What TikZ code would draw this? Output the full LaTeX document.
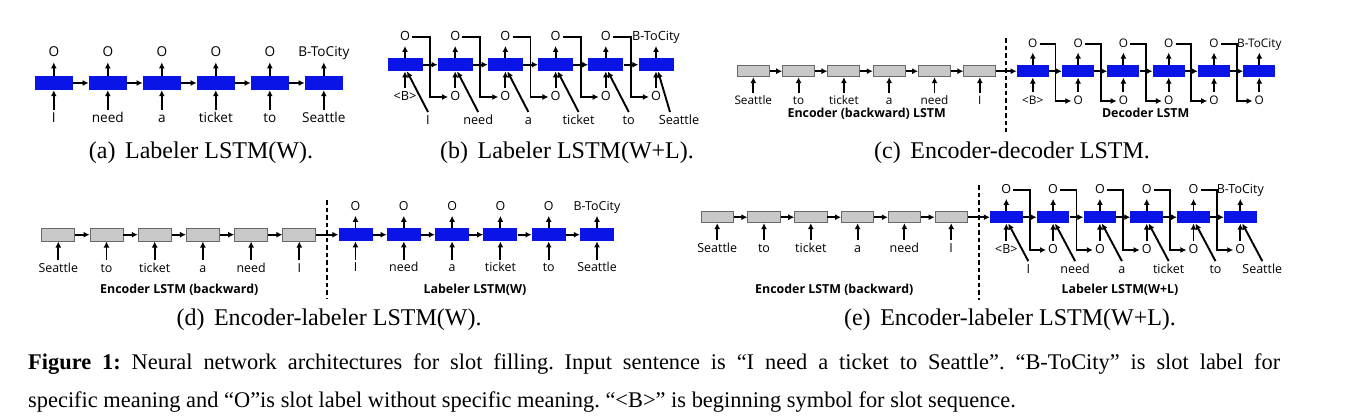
\documentclass[tikz,border=0pt]{standalone}
\usepackage{fontspec}
\setmainfont{Liberation Serif}
\newfontfamily\dfont{Open Sans}
\usetikzlibrary{arrows.meta,calc}
\definecolor{myblue}{RGB}{10,20,230}
\definecolor{mygray}{RGB}{200,200,200}
\definecolor{mygrayd}{RGB}{105,105,105}
\begin{document}
\frenchspacing
\begin{tikzpicture}[x=1pt,y=-1pt,
  arr/.style={-{Latex[length=6pt,width=6pt]},line width=1.9pt},
  bblk/.style={fill=myblue,inner sep=0pt},
  gblk/.style={fill=mygray,draw=mygrayd,line width=0.9pt,inner sep=0pt},
  lbl/.style={font=\dfont\fontsize{#1pt}{#1pt}\selectfont,inner xsep=2pt,inner ysep=3pt,
    text height=0.71*#1pt,text depth=0.2*#1pt},
  blbl/.style={font=\dfont\bfseries\fontsize{#1pt}{#1pt}\selectfont,inner sep=0pt},
  subcap/.style={font=\fontsize{24pt}{28pt}\selectfont,anchor=base,inner sep=0pt},
  capline/.style={font=\fontsize{22.4pt}{26pt}\selectfont,anchor=base west,inner sep=0pt},
  dashline/.style={line width=1.9pt,dash pattern=on 4.5pt off 3pt}
]
\fill[white] (0,0) rectangle (1348,418);
\useasboundingbox (0,0) rectangle (1348,418);

%% ---------------- (a) ----------------
\foreach \w [count=\i] in {I,need,a,ticket,to,Seattle}{
  \pgfmathsetmacro\x{53.8+54*(\i-1)}
  \node[bblk,minimum width=38pt,minimum height=14pt] (a\i) at (\x,83) {};
  \node[lbl=13.6] (aw\i) at (\x,119) {\w};
  \draw[arr] (aw\i) -- (a\i);
}
\foreach \w [count=\i] in {O,O,O,O,O,B-ToCity}{
  \node[lbl=13.6] (ao\i) at (a\i |- 0,53) {\w};
  \draw[arr] (a\i) -- (ao\i);
}
\foreach \i in {1,...,5}{
  \pgfmathtruncatemacro\j{\i+1}
  \draw[arr] (a\i) -- (a\j);
}
\node[subcap] (capa) at (201,158) {(a)\hspace{0.4em}Labeler LSTM(W).};

%% ---------------- (b) ----------------
\foreach \w [count=\i] in {I,need,a,ticket,to,Seattle}{
  \pgfmathsetmacro\x{405+50.2*(\i-1)}
  \node[bblk,minimum width=35pt,minimum height=13pt] (b\i) at (\x,64.7) {};
  \node[lbl=12.7] (bw\i) at (\x+23,121) {\w};
}
\foreach \w [count=\i] in {O,O,O,O,O,B-ToCity}{
  \node[lbl=12.7] (bo\i) at (b\i |- 0,37) {\w};
  \draw[arr] (b\i) -- (bo\i);
}
\foreach \w [count=\i] in {<B>,O,O,O,O,O}{
  \node[lbl=12.7] (bb\i) at (b\i |- 0,97) {\w};
  \draw[arr] (bb\i) -- (b\i);
  \pgfmathsetmacro\s{\i==6 ? -9 : 0}
  \draw[arr] ([xshift=\s pt]bw\i.north) -- ([xshift=2pt]b\i.south);
}
\foreach \i in {1,...,5}{
  \pgfmathtruncatemacro\j{\i+1}
  \draw[arr] (b\i) -- (b\j);
  \coordinate (bg\i) at ($(b\i.east)!0.5!(b\j.west)$);
  \draw[arr] (bo\i.east) -| (bg\i) |- (bb\j.west);
}
\node[subcap] (capb) at (567,158) {(b)\hspace{0.4em}Labeler LSTM(W+L).};

%% ---------------- (c) ----------------
\foreach \w [count=\i] in {Seattle,to,ticket,a,need,I}{
  \pgfmathsetmacro\x{753.3+45.3*(\i-1)}
  \node[gblk,minimum width=32pt,minimum height=11pt] (ce\i) at (\x,71.2) {};
  \node[lbl=11.8] (cw\i) at (\x,101.7) {\w};
  \draw[arr] (cw\i) -- (ce\i);
}
\foreach \i in {1,...,5}{
  \pgfmathtruncatemacro\j{\i+1}
  \draw[arr] (ce\i) -- (ce\j);
}
\foreach \w [count=\i] in {<B>,O,O,O,O,O}{
  \pgfmathsetmacro\x{1032.8+45.3*(\i-1)}
  \node[bblk,minimum width=32pt,minimum height=12.3pt] (cd\i) at (\x,71.2) {};
  \node[lbl=11.8] (cdb\i) at (\x,101) {\w};
  \draw[arr] (cdb\i) -- (cd\i);
}
\foreach \w [count=\i] in {O,O,O,O,O,B-ToCity}{
  \node[lbl=11.8] (cdo\i) at (cd\i |- 0,44) {\w};
  \draw[arr] (cd\i) -- (cdo\i);
}
\foreach \i in {1,...,5}{
  \pgfmathtruncatemacro\j{\i+1}
  \draw[arr] (cd\i) -- (cd\j);
  \coordinate (cg\i) at ($(cd\i.east)!0.5!(cd\j.west)$);
  \draw[arr] (cdo\i.east) -| (cg\i) |- (cdb\j.west);
}
\draw[arr] (ce6) -- (cd1);
\coordinate (cdt) at (1006,38);
\coordinate (cdbm) at (1006,132);
\draw[dashline] (cdt) -- (cdbm);
\node[blbl=12.4] (cenc) at (866.7,113.3) {Encoder (backward) LSTM};
\node[blbl=12.4] (cdec) at (1145.7,113.3) {Decoder LSTM};
\node[subcap] (capc) at (1012,158) {(c)\hspace{0.4em}Encoder-decoder LSTM.};

%% ---------------- (d) ----------------
\foreach \w [count=\i] in {Seattle,to,ticket,a,need,I}{
  \pgfmathsetmacro\x{58.3+48.2*(\i-1)}
  \node[gblk,minimum width=33pt,minimum height=12.7pt] (de\i) at (\x,234.7) {};
  \node[lbl=12.4] (dw\i) at (\x,269) {\w};
  \draw[arr] (dw\i) -- (de\i);
}
\foreach \i in {1,...,5}{
  \pgfmathtruncatemacro\j{\i+1}
  \draw[arr] (de\i) -- (de\j);
}
\foreach \w [count=\i] in {I,need,a,ticket,to,Seattle}{
  \pgfmathsetmacro\x{355.5+48.3*(\i-1)}
  \node[bblk,minimum width=34pt,minimum height=13pt] (dl\i) at (\x,234.7) {};
  \node[lbl=12.4] (dlw\i) at (\x,268.5) {\w};
  \draw[arr] (dlw\i) -- (dl\i);
}
\foreach \w [count=\i] in {O,O,O,O,O,B-ToCity}{
  \node[lbl=12.4] (dlo\i) at (dl\i |- 0,207) {\w};
  \draw[arr] (dl\i) -- (dlo\i);
}
\foreach \i in {1,...,5}{
  \pgfmathtruncatemacro\j{\i+1}
  \draw[arr] (dl\i) -- (dl\j);
}
\draw[arr] (de6) -- (dl1);
\coordinate (ddt) at (327.3,200);
\coordinate (ddb) at (327.3,298);
\draw[dashline] (ddt) -- (ddb);
\node[blbl=12.4] (denc) at (179.3,289.3) {Encoder LSTM (backward)};
\node[blbl=12.4] (dlab) at (475,289.3) {Labeler LSTM(W)};
\node[subcap] (capd) at (329,325) {(d)\hspace{0.4em}Encoder-labeler LSTM(W).};

%% ---------------- (e) ----------------
\foreach \w [count=\i] in {Seattle,to,ticket,a,need,I}{
  \pgfmathsetmacro\x{717.2+46.8*(\i-1)}
  \node[gblk,minimum width=32.3pt,minimum height=11pt] (ee\i) at (\x,217.2) {};
  \node[lbl=12.5] (ew\i) at (\x,249) {\w};
  \draw[arr] (ew\i) -- (ee\i);
}
\foreach \i in {1,...,5}{
  \pgfmathtruncatemacro\j{\i+1}
  \draw[arr] (ee\i) -- (ee\j);
}
\foreach \w [count=\i] in {I,need,a,ticket,to,Seattle}{
  \pgfmathsetmacro\x{1006.3+46.8*(\i-1)}
  \node[bblk,minimum width=32.5pt,minimum height=12.3pt] (el\i) at (\x,217.2) {};
  \node[lbl=12.5] (elw\i) at (\x+22,270) {\w};
}
\foreach \w [count=\i] in {O,O,O,O,O,B-ToCity}{
  \node[lbl=12.5] (elo\i) at (el\i |- 0,190) {\w};
  \draw[arr] (el\i) -- (elo\i);
}
\foreach \w [count=\i] in {<B>,O,O,O,O,O}{
  \node[lbl=12.5] (elb\i) at (el\i |- 0,250) {\w};
  \draw[arr] (elb\i) -- (el\i);
  \draw[arr] (elw\i.north) -- ([xshift=2pt]el\i.south);
}
\foreach \i in {1,...,5}{
  \pgfmathtruncatemacro\j{\i+1}
  \draw[arr] (el\i) -- (el\j);
  \coordinate (eg\i) at ($(el\i.east)!0.5!(el\j.west)$);
  \draw[arr] (elo\i.east) -| (eg\i) |- (elb\j.west);
}
\draw[arr] (ee6) -- (el1);
\coordinate (edt) at (978.7,185);
\coordinate (edb) at (978.7,300);
\draw[dashline] (edt) -- (edb);
\node[blbl=12.4] (eenc) at (834.3,290) {Encoder LSTM (backward)};
\node[blbl=12.4] (elab) at (1120,290) {Labeler LSTM(W+L)};
\node[subcap] (cape) at (1010,325) {(e)\hspace{0.4em}Encoder-labeler LSTM(W+L).};

%% ---------------- caption ----------------
\node[capline] (cap1) at (28,369) {\makebox[1252pt][s]{\textbf{Figure 1:} Neural network architectures for slot filling. Input sentence is “I need a ticket to Seattle”. “B-ToCity” is slot label for}};
\node[capline] (cap2) at (28,407) {specific meaning and “O”is slot label without specific meaning. “<B>” is beginning symbol for slot sequence.};
\end{tikzpicture}
\end{document}
